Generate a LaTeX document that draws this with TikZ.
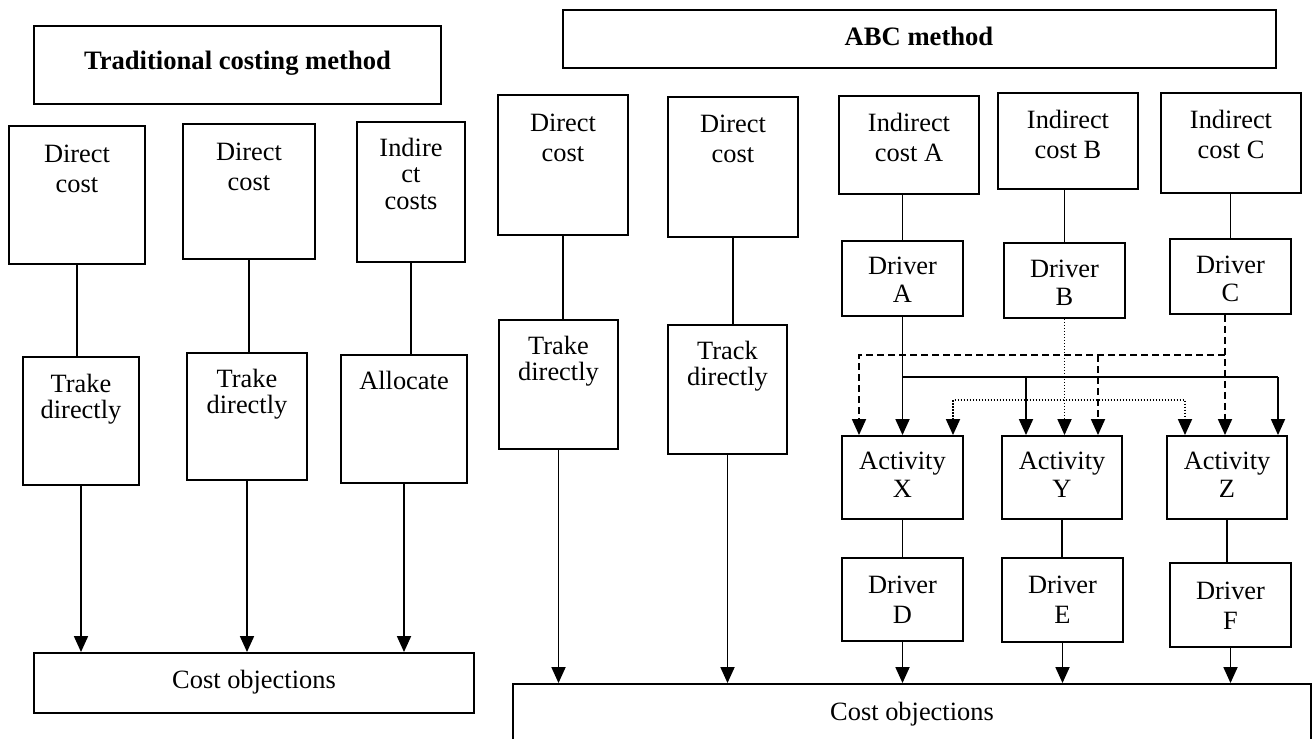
\documentclass[tikz,border=0pt]{standalone}
\usepackage{fontspec}
\setmainfont{Liberation Serif}
\usetikzlibrary{arrows.meta,fit}

\tikzset{
  box/.style={draw, line width=0.95pt, inner sep=0pt},
  lbl/.style={inner sep=0pt, anchor=base, font=\fontsize{13.2}{14}\selectfont},
  wide/.style={font=\fontsize{13.2}{15.2}\selectfont},
  tight/.style={font=\fontsize{13.2}{13.4}\selectfont},
  ttl/.style={inner sep=0pt, anchor=base, font=\fontsize{13.3}{14}\selectfont\bfseries},
  conn/.style={line width=0.9pt},
  arr/.style={conn, -{Triangle[width=7pt,length=8pt]}},
  darr/.style={conn, {Triangle[width=7pt,length=8pt]}-{Triangle[width=7pt,length=8pt]}},
  dsh/.style={dash pattern=on 3.5pt off 2pt},
  dtt/.style={dash pattern=on 0.6pt off 0.9pt},
}

% box: name, x1, y1, x2, y2 (pixel grid, y downwards)
\newcommand\boxfit[5]{\node[box, fit={(#2,#3) (#4,#5)}] (#1) {};}
% stacked label: name, options, x, first baseline, lines
\newcommand\stack[5]{\node[lbl,#2] (#1) at (#3,#4) {\begin{tabular}[t]{@{}c@{}}#5\end{tabular}};}

\begin{document}
\begin{tikzpicture}[x=0.5pt, y=-0.5pt]
\useasboundingbox (0,0) rectangle (1312,739);
\clip (0,0) rectangle (1312,739);

%% ---------------- Traditional costing method ----------------
\boxfit{ltitle}{34}{26}{441}{104}
\node[ttl] (ltitleT) at (237.5,69) {Traditional costing method};

\boxfit{ldc1}{9}{126}{145}{264}
\stack{ldc1T}{wide}{77}{162}{Direct\\cost}
\boxfit{ldc2}{183}{124}{315}{259}
\stack{ldc2T}{wide}{249}{160}{Direct\\cost}
\boxfit{lic}{357}{122}{465}{262}
\stack{licT}{tight}{411}{156}{Indire\\ct\\costs}

\boxfit{ltd1}{23}{357}{139}{485}
\stack{ltd1T}{tight}{81}{392}{Trake\\directly}
\boxfit{ltd2}{187}{353}{307}{480}
\stack{ltd2T}{tight}{247}{387}{Trake\\directly}
\boxfit{lal}{341}{355}{467}{483}
\stack{lalT}{}{404}{389}{Allocate}

\boxfit{lco}{34}{653}{474}{713}
\stack{lcoT}{}{254}{688}{Cost objections}

\draw[conn] (ldc1.south) -- (ldc1.south |- ltd1.north);
\draw[conn] (ldc2.south) -- (ldc2.south |- ltd2.north);
\draw[conn] (lic.south) -- (lic.south |- lal.north);
\draw[arr] (ltd1.south) -- (ltd1.south |- lco.north);
\draw[arr] (ltd2.south) -- (ltd2.south |- lco.north);
\draw[arr] (lal.south) -- (lal.south |- lco.north);

%% ---------------- ABC method ----------------
\boxfit{rtitle}{563}{10}{1276}{68}
\node[ttl] (rtitleT) at (919,45) {ABC method};

\boxfit{rdc1}{498}{95}{628}{235}
\stack{rdc1T}{wide}{563}{131}{Direct\\cost}
\boxfit{rdc2}{668}{97}{798}{237}
\stack{rdc2T}{wide}{733}{132}{Direct\\cost}
\boxfit{rica}{839}{96}{979}{194}
\stack{ricaT}{wide}{909}{131}{Indirect\\cost A}
\boxfit{ricb}{998}{93}{1138}{189}
\stack{ricbT}{wide}{1068}{128}{Indirect\\cost B}
\boxfit{ricc}{1161}{93}{1301}{193}
\stack{riccT}{wide}{1231}{128}{Indirect\\cost C}

\boxfit{rdA}{842}{241}{963}{316}
\stack{rdAT}{}{902.5}{274}{Driver\\A}
\boxfit{rdB}{1004}{243}{1125}{318}
\stack{rdBT}{}{1064.5}{277}{Driver\\B}
\boxfit{rdC}{1170}{239}{1291}{314}
\stack{rdCT}{}{1230.5}{273}{Driver\\C}

\boxfit{rtd}{499}{320}{618}{449}
\stack{rtdT}{tight}{558.5}{354}{Trake\\directly}
\boxfit{rtk}{668}{325}{787}{454}
\stack{rtkT}{tight}{727.5}{359}{Track\\directly}

\boxfit{aX}{842}{436}{963}{519}
\stack{aXT}{}{902.5}{469}{Activity\\X}
\boxfit{aY}{1002}{436}{1122}{519}
\stack{aYT}{}{1062}{469}{Activity\\Y}
\boxfit{aZ}{1167}{436}{1287}{519}
\stack{aZT}{}{1227}{469}{Activity\\Z}

\boxfit{dD}{842}{558}{963}{641}
\stack{dDT}{wide}{902.5}{593}{Driver\\D}
\boxfit{dE}{1002}{558}{1123}{642}
\stack{dET}{wide}{1062.5}{593}{Driver\\E}
\boxfit{dF}{1170}{563}{1291}{647}
\stack{dFT}{wide}{1230.5}{599}{Driver\\F}

\boxfit{rco}{513}{684}{1311}{770}
\stack{rcoT}{}{912}{720}{Cost objections}

% direct costs
\draw[conn] (rdc1.south) -- (rdc1.south |- rtd.north);
\draw[conn] (rdc2.south) -- (rdc2.south |- rtk.north);
\draw[arr] (rtd.south) -- (rtd.south |- rco.north);
\draw[arr] (rtk.south) -- (rtk.south |- rco.north);

% indirect costs to their drivers
\draw[conn] (rdA.north) -- (rdA.north |- rica.south);
\draw[conn] (rdB.north) -- (rdB.north |- ricb.south);
\draw[conn] (rdC.north) -- (rdC.north |- ricc.south);

% driver A: solid
\coordinate (sa) at (902.5,377);
\coordinate (sy) at (1026,377);
\coordinate (sz) at (1278,377);
\draw[arr] (rdA.south) -- (rdA.south |- aX.north);
\draw[conn] (sa) -- (sz);
\draw[arr] (sy) -- (sy |- aY.north);
\draw[arr] (sz) -- (sz |- aZ.north);

% driver C: dashed
\coordinate (dc) at (1225,355);
\coordinate (dl) at (859,355);
\coordinate (dm) at (1098,355);
\draw[arr,dsh] (dc |- rdC.south) -- (dc |- aZ.north);
\draw[arr,dsh] (dc) -- (dl) -- (dl |- aX.north);
\draw[arr,dsh] (dm) -- (dm |- aY.north);

% driver B: dotted
\coordinate (ol) at (953,400);
\coordinate (or) at (1185,400);
\draw[arr,dtt] (rdB.south) -- (rdB.south |- aY.north);
\draw[darr,dtt] (ol |- aX.north) -- (ol) -- (or) -- (or |- aZ.north);

% activities to their drivers and on to cost objects
\draw[conn] (aX.south) -- (aX.south |- dD.north);
\draw[conn] (aY.south) -- (aY.south |- dE.north);
\draw[conn] (aZ.south) -- (aZ.south |- dF.north);
\draw[arr] (dD.south) -- (dD.south |- rco.north);
\draw[arr] (dE.south) -- (dE.south |- rco.north);
\draw[arr] (dF.south) -- (dF.south |- rco.north);
\end{tikzpicture}
\end{document}
